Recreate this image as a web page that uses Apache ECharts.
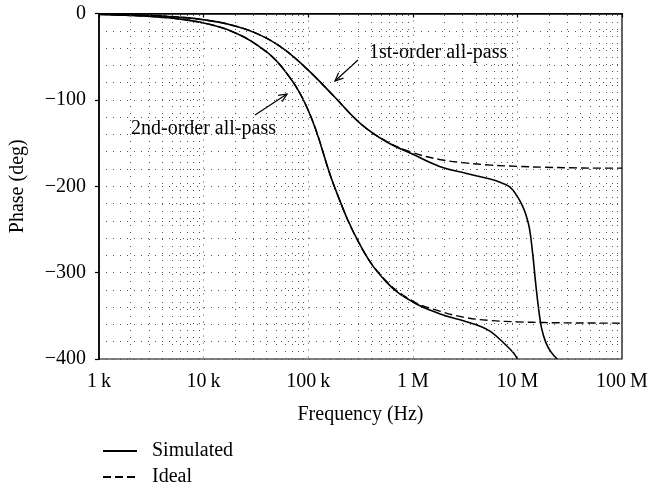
<!DOCTYPE html>
<html>
<head>
<meta charset="utf-8">
<script src="https://cdn.jsdelivr.net/npm/echarts@6/dist/echarts.min.js"></script>
<style>
  html, body { margin: 0; padding: 0; background: #fff; }
  #chart { width: 663px; height: 490px; }
</style>
</head>
<body>
<div id="chart"></div>
<script>
// values (frequency in Hz, phase in degrees)
var freqIdeal1 = [1e3, 1.8e3, 3.2e3, 5.6e3, 1e4, 1.8e4, 3.2e4, 5.6e4, 1e5, 1.8e5, 3.2e5, 5.6e5, 1e6, 1.8e6, 3.2e6, 5.6e6, 1e7, 1.8e7, 3.2e7, 5.6e7, 1e8];
var phaseIdeal1 = [-0.7, -1.3, -2.3, -4.1, -7.2, -13, -23, -39.5, -65.5, -97, -128, -148, -161, -169, -173, -175.5, -177, -178, -178.6, -179, -179];

var freqSim1 = [1e3, 1.8e3, 3.2e3, 5.6e3, 1e4, 1.8e4, 3.2e4, 5.6e4, 1e5, 1.8e5, 3.2e5, 5.6e5, 1e6, 1.8e6, 3.2e6, 5.6e6, 7e6, 8.5e6, 1e7, 1.1e7, 1.2e7, 1.3e7, 1.4e7, 1.5e7, 1.6e7, 1.7e7, 1.87e7, 2.1e7, 2.4e7];
var phaseSim1 = [-0.7, -1.3, -2.3, -4.1, -7.2, -13, -23, -39.5, -65.5, -97, -128, -148.5, -163, -177, -185, -192, -196, -201, -212, -221, -232, -248, -278, -314, -343, -364, -381, -392, -400];

var freqIdeal2 = [1e3, 1.8e3, 3.2e3, 5.6e3, 1e4, 1.8e4, 3.2e4, 5.6e4, 1e5, 1.8e5, 3.2e5, 5.6e5, 1e6, 1.8e6, 3.2e6, 5.6e6, 1e7, 1.8e7, 3.2e7, 5.6e7, 1e8];
var phaseIdeal2 = [-1, -2, -3.5, -6, -11, -20, -36, -62, -112, -202, -270, -310, -333, -344.5, -352, -355.5, -357, -357.8, -358.2, -358.4, -358.6];

var freqSim2 = [1e3, 1.8e3, 3.2e3, 5.6e3, 1e4, 1.8e4, 3.2e4, 5.6e4, 1e5, 1.8e5, 3.2e5, 5.6e5, 1e6, 1.8e6, 3.2e6, 4.4e6, 5.6e6, 7.4e6, 9.2e6, 1e7];
var phaseSim2 = [-1, -2, -3.5, -6, -11, -20, -36, -62, -112, -202, -270, -311, -334, -347.5, -356.5, -362, -368.5, -381.5, -393, -400];

var xTickLabels = {1e3: '1\u2009k', 1e4: '10\u2009k', 1e5: '100\u2009k', 1e6: '1\u2009M', 1e7: '10\u2009M', 1e8: '100\u2009M'};

function pairs(xs, ys) {
  return xs.map(function (x, i) { return [x, ys[i]]; });
}

// dotted vertical grid at 2..9 of every decade
var minorGrid = [];
for (var d = 1e3; d < 1e8; d *= 10) {
  for (var m = 2; m <= 9; m++) minorGrid.push({xAxis: m * d});
}

var FONT = '"Liberation Serif", "DejaVu Serif", serif';
var gridDot = {color: '#555', width: 1, type: [1, 6]};

var chart = echarts.init(document.getElementById('chart'));

function lineSeries(name, data, dashed) {
  return {
    name: name,
    type: 'line',
    data: data,
    showSymbol: false,
    symbol: 'none',
    smooth: 0.4,
    silent: true,
    z: 3,
    lineStyle: {color: '#000', width: dashed ? 1.4 : 1.6, type: dashed ? [8, 4] : 'solid'},
    itemStyle: {color: '#000'}
  };
}

var series = [
  lineSeries('Simulated', pairs(freqSim1, phaseSim1), false),
  lineSeries('Simulated', pairs(freqSim2, phaseSim2), false),
  lineSeries('Ideal', pairs(freqIdeal1, phaseIdeal1), true),
  lineSeries('Ideal', pairs(freqIdeal2, phaseIdeal2), true)
];
series.push({
  type: 'line',
  data: [],
  silent: true,
  markLine: {
    silent: true,
    symbol: 'none',
    label: {show: false},
    lineStyle: gridDot,
    data: minorGrid
  }
});

function arrow(x1, y1, x2, y2) {
  var a = Math.atan2(y2 - y1, x2 - x1), L = 9, s = 0.42;
  return [
    {type: 'line', shape: {x1: x1, y1: y1, x2: x2, y2: y2}, style: {stroke: '#000', lineWidth: 1.2}},
    {type: 'polyline', shape: {points: [
      [x2 - L * Math.cos(a - s), y2 - L * Math.sin(a - s)],
      [x2, y2],
      [x2 - L * Math.cos(a + s), y2 - L * Math.sin(a + s)]
    ]}, style: {stroke: '#000', fill: null, lineWidth: 1.2}}
  ];
}

chart.setOption({
  animation: false,
  backgroundColor: '#fff',
  grid: {left: 98, right: 41, top: 13.5, bottom: 131, show: true, borderColor: '#000', borderWidth: 1.2, backgroundColor: 'transparent'},
  legend: {
    orient: 'vertical',
    left: 102,
    top: 441,
    padding: 0,
    height: 60,
    itemWidth: 34,
    itemHeight: 12,
    itemGap: 6,
    data: ['Simulated', 'Ideal'],
    itemStyle: {opacity: 0},
    textStyle: {fontFamily: FONT, fontSize: 20, color: '#000', padding: [0, 0, 0, 10]}
  },
  xAxis: {
    type: 'log',
    logBase: 10,
    min: 1e3,
    max: 1e8,
    name: 'Frequency (Hz)',
    nameLocation: 'middle',
    nameGap: 46,
    nameTextStyle: {fontFamily: FONT, fontSize: 20, color: '#000'},
    axisLine: {lineStyle: {color: '#000', width: 1.6}},
    axisTick: {show: true, length: 4, lineStyle: {color: '#000', width: 1.2}},
    axisLabel: {
      margin: 13,
      fontFamily: FONT, fontSize: 20, color: '#000',
      formatter: function (v) { return xTickLabels[Math.round(v)] || ''; }
    },
    splitLine: {show: true, lineStyle: gridDot}
  },
  yAxis: {
    type: 'value',
    min: -400,
    max: 0,
    interval: 100,
    name: 'Phase (deg)',
    nameLocation: 'middle',
    nameGap: 71,
    nameTextStyle: {fontFamily: FONT, fontSize: 20, color: '#000'},
    axisLine: {show: true, lineStyle: {color: '#000', width: 1.6}},
    axisTick: {show: true, length: 4, lineStyle: {color: '#000', width: 1.2}},
    axisLabel: {
      margin: 13,
      fontFamily: FONT, fontSize: 20, color: '#000',
      formatter: function (v) { return v < 0 ? '\u2212' + (-v) : String(v); }
    },
    splitLine: {show: true, lineStyle: gridDot},
    minorTick: {show: false, splitNumber: 5},
    minorSplitLine: {show: true, lineStyle: gridDot}
  },
  series: series,
  graphic: [
    {type: 'text', left: 369, top: 43, style: {text: '1st-order all-pass', font: '20px ' + FONT, fill: '#000'}},
    {type: 'text', left: 131, top: 119, style: {text: '2nd-order all-pass', font: '20px ' + FONT, fill: '#000'}}
  ].concat(arrow(358, 60, 335, 81)).concat(arrow(255, 115, 287, 94))
});
</script>
</body>
</html>
